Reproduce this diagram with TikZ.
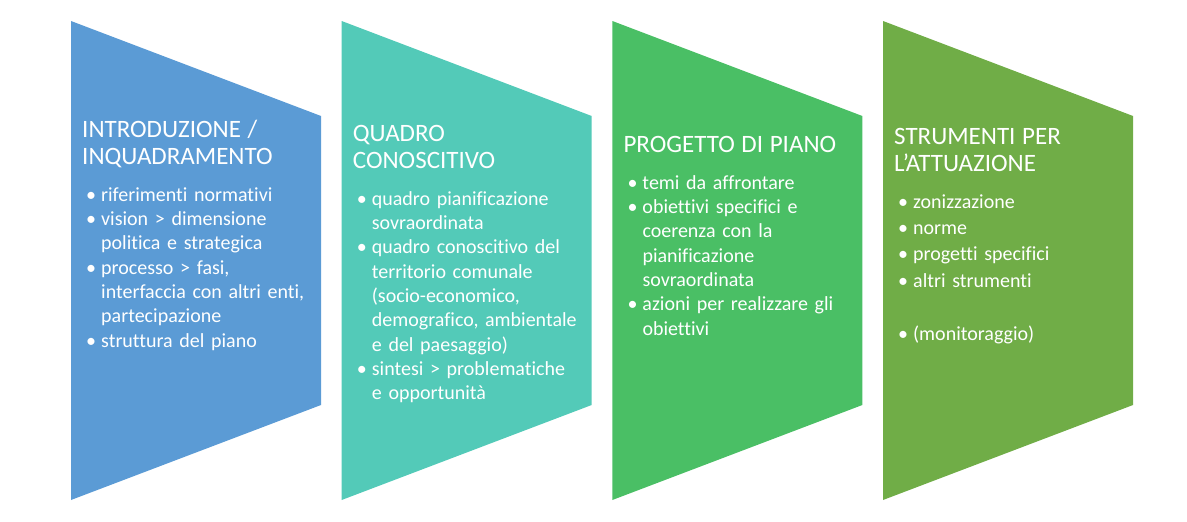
\documentclass[tikz,border=0pt]{standalone}
\usepackage{fontspec}
\setmainfont{Carlito}[Ligatures=NoCommon]
\usetikzlibrary{positioning}
\definecolor{pianoblue}{RGB}{91,155,213}
\definecolor{pianoteal}{RGB}{83,202,184}
\definecolor{pianogreen}{RGB}{74,191,101}
\definecolor{pianoolive}{RGB}{112,173,71}
\newcommand{\titolofont}{\fontsize{25}{27}\selectfont}
\newcommand{\vocefont}{\fontsize{20}{24.3}\selectfont}
\newcommand{\titolo}[2][12.3pt]{{\titolofont\strut#2\par}\vspace{#1}}
\newcommand{\voce}[1]{\par\hangindent=19pt\hangafter=1\noindent\hspace*{4pt}\makebox[15pt][l]{•}#1\par}

\begin{document}
\begin{tikzpicture}[x=1pt,y=-1pt,
    fase/.style={inner sep=0pt,anchor=north west,text width=245pt,align=left,
                 text=white,font=\vocefont}]
  \useasboundingbox (0,0) rectangle (1187,522);
  % quattro frecce a gallone
  \foreach \col [count=\i from 0] in {pianoblue,pianoteal,pianogreen,pianoolive}{
    \fill[\col] ({71+270.67*\i},21) coordinate (g\i)
      -- ++(250,95) -- ++(0,289) -- ++(-250,95) -- cycle;
  }
  \node[fase] (intro) at (82,118.5) {\titolo{INTRODUZIONE /\\INQUADRAMENTO}%
    \voce{riferimenti normativi}
    \voce{vision > dimensione\newline politica e strategica}
    \voce{processo > fasi,\newline interfaccia con altri enti,\newline partecipazione}
    \voce{struttura del piano}};
  \node[fase] (quadro) at (352.7,122.5) {\titolo{QUADRO\\CONOSCITIVO}%
    \voce{quadro pianificazione\newline sovraordinata}
    \voce{quadro conoscitivo del\newline territorio comunale\newline (socio-economico,\newline demografico, ambientale\newline e del paesaggio)}
    \voce{sintesi > problematiche\newline e opportunità}};
  \node[fase] (progetto) at (623.3,133.5) {\titolo{PROGETTO DI PIANO}%
    \voce{temi da affrontare}
    \voce{obiettivi specifici e\newline coerenza con la\newline pianificazione\newline sovraordinata}
    \voce{azioni per realizzare gli\newline obiettivi}};
  \node[fase,font=\fontsize{20}{26.4}\selectfont] (strumenti) at (894,125.5)
    {\titolo[10pt]{STRUMENTI PER\\L’ATTUAZIONE}%
    \voce{zonizzazione}
    \voce{norme}
    \voce{progetti specifici}
    \voce{altri strumenti}
    \vspace{26.4pt}
    \voce{(monitoraggio)}};
\end{tikzpicture}
\end{document}
